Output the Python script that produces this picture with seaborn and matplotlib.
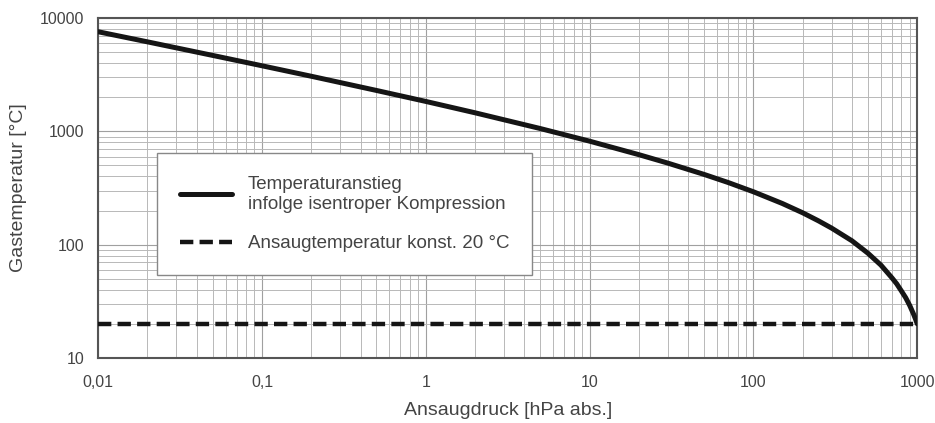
import numpy as np
import pandas as pd
import matplotlib
matplotlib.use("Agg")
import matplotlib.pyplot as plt
import seaborn as sns
from matplotlib.ticker import FixedLocator, FixedFormatter, LogLocator, NullFormatter

# --- data ---
pressure = [0.01, 0.02, 0.05, 0.1, 0.2, 0.5, 1, 2, 5, 10, 20, 30, 50, 70,
            100, 150, 200, 250, 300, 400, 500, 600, 700, 750, 800, 850, 900,
            950, 975, 1000]
gas_temp = [7590, 6180, 4690, 3800, 3070, 2300, 1840, 1460, 1060, 820, 623, 525,
            417, 354, 293, 231, 191, 162, 140, 108, 84, 66, 51, 45, 39, 34, 29,
            24.3, 22.1, 20]
intake_p = [0.01, 1000]
intake_t = [20, 20]

x_ticks = [0.01, 0.1, 1, 10, 100, 1000]
x_labels = ["0,01", "0,1", "1", "10", "100", "1000"]
y_ticks = [10, 100, 1000, 10000]
y_labels = ["10", "100", "1000", "10000"]

label_curve = "Temperaturanstieg\ninfolge isentroper Kompression"
label_const = "Ansaugtemperatur konst. 20 °C"

sns.set_style("white")
plt.rcParams["font.family"] = ["Liberation Sans", "DejaVu Sans"]

fig = plt.figure(figsize=(9.35, 4.23), dpi=100)
ax = fig.add_axes([0.105, 0.154, 0.876, 0.803])

df_curve = pd.DataFrame({"p": pressure, "t": gas_temp})
df_const = pd.DataFrame({"p": intake_p, "t": intake_t})

sns.lineplot(data=df_curve, x="p", y="t", ax=ax, color="#151515",
             linewidth=3.6, label=label_curve, zorder=3)
sns.lineplot(data=df_const, x="p", y="t", ax=ax, color="#151515",
             linewidth=3.2, label=label_const, zorder=3)
ax.lines[1].set_dashes([3.0, 1.4])

ax.set_xscale("log")
ax.set_yscale("log")
ax.set_xlim(0.01, 1000)
ax.set_ylim(10, 10000)

ax.xaxis.set_major_locator(FixedLocator(x_ticks))
ax.xaxis.set_major_formatter(FixedFormatter(x_labels))
ax.yaxis.set_major_locator(FixedLocator(y_ticks))
ax.yaxis.set_major_formatter(FixedFormatter(y_labels))
ax.xaxis.set_minor_locator(LogLocator(base=10, subs=np.arange(2, 10)))
ax.yaxis.set_minor_locator(LogLocator(base=10, subs=np.arange(2, 10)))
ax.xaxis.set_minor_formatter(NullFormatter())
ax.yaxis.set_minor_formatter(NullFormatter())

ax.grid(True, which="major", color="#a0a0a0", linewidth=0.8)
ax.grid(True, which="minor", color="#b8b8b8", linewidth=0.7)
ax.tick_params(which="both", length=0, labelsize=11.5, colors="#444444")
ax.tick_params(axis="y", pad=10)
ax.tick_params(axis="x", pad=12)

for s in ax.spines.values():
    s.set_color("#555555")
    s.set_linewidth(1.5)

ax.set_xlabel("Ansaugdruck [hPa abs.]", fontsize=14, color="#444444", labelpad=9)
ax.set_ylabel("Gastemperatur [°C]", fontsize=14, color="#444444", labelpad=9)

leg = ax.legend(loc="upper left", bbox_to_anchor=(0.072, 0.603), borderaxespad=0,
                fontsize=13.5, handlelength=2.8, handletextpad=0.85,
                labelspacing=1.15, borderpad=1.2, frameon=True, fancybox=False,
                framealpha=1, edgecolor="#888888")
leg.get_frame().set_linewidth(1.0)
for t in leg.get_texts():
    t.set_color("#444444")
    t.set_linespacing(1.3)

fig.savefig("out.png", dpi=100)
